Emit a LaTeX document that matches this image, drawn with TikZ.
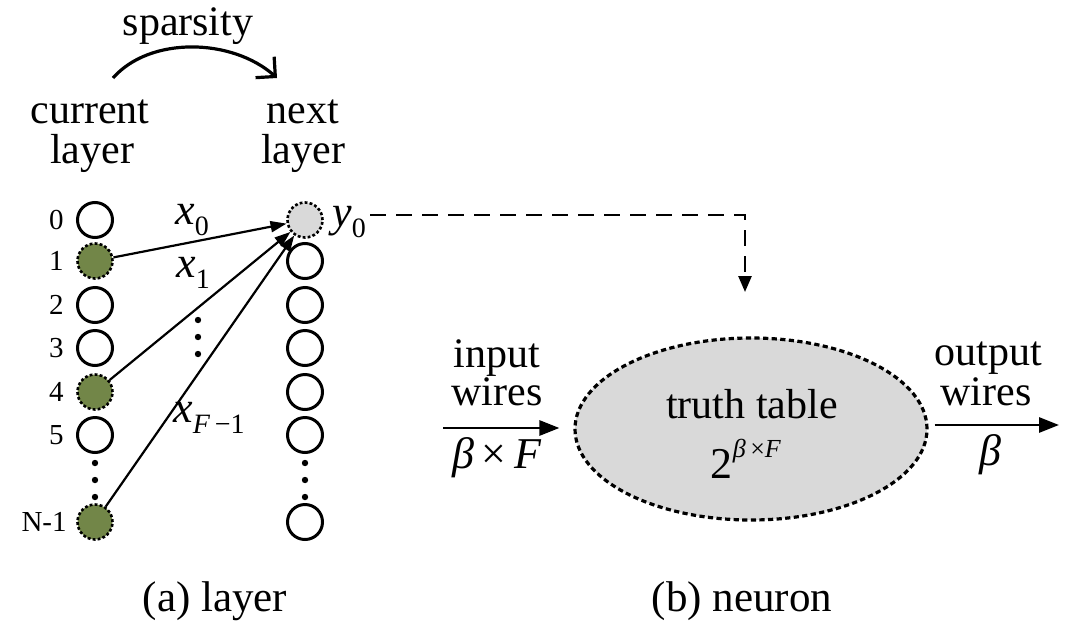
\documentclass[tikz,border=0pt]{standalone}
\usepackage{fontspec}
\setmainfont{Liberation Serif}
\usetikzlibrary{arrows.meta,shapes.geometric}

\definecolor{picked}{RGB}{114,134,72}
\definecolor{shade}{RGB}{217,217,217}

% italic variable with a lowered subscript
\newcommand{\lowsub}[1]{\raisebox{-0.55ex}{\fontsize{14}{14}\selectfont #1}}
\newcommand{\mathlbl}{\fontsize{22}{22}\selectfont}
\newcommand{\bigtxt}{\fontsize{21}{21}\selectfont}

\begin{document}
\begin{tikzpicture}[x=0.5pt,y=-0.5pt,
  unit/.style={circle,draw,line width=1.5pt,minimum size=17.5pt,inner sep=0pt},
  chosen/.style={unit,fill=picked,line width=1.3pt,dash pattern=on 1.4pt off 1.1pt},
  outunit/.style={unit,fill=shade,line width=1.3pt,dash pattern=on 1.4pt off 1.1pt},
  idx/.style={anchor=east,inner sep=0pt,font=\fontsize{14.5}{14.5}\selectfont},
  txt/.style={anchor=base,inner sep=0pt,font=\bigtxt},
  conn/.style={line width=1.1pt,-{Triangle[length=8pt,width=5.5pt]}},
  wire/.style={line width=1.4pt,-{Triangle[length=10pt,width=7.5pt]}},
  dot/.style={circle,fill,inner sep=0pt,minimum size=3.2pt}]

\useasboundingbox (0,0) rectangle (1074,621);

% ---- (a) layer ----
\node[txt] (sp) at (188,35) {sparsity};
\node[txt] (cur1) at (90,123) {current};
\node[txt] (cur2) at (92,163) {layer};
\node[txt] (nxt1) at (303,123) {next};
\node[txt] (nxt2) at (303,163) {layer};

\coordinate (arcA) at (113,78);
\coordinate (arcB) at (277,78);
\draw[line width=1.6pt,-{Straight Barb[length=7pt,width=14pt,line width=1.6pt]}]
  (arcA) .. controls (150,36) and (232,38) .. (arcB);

% current layer
\node[unit]   (c0) at (95,220) {};
\node[chosen] (c1) at (95,261) {};
\node[unit]   (c2) at (95,305) {};
\node[unit]   (c3) at (95,348) {};
\node[chosen] (c4) at (95,392) {};
\node[unit]   (c5) at (95,435) {};
\node[dot]    (cd1) at (95,463) {};
\node[dot]    (cd2) at (95,480) {};
\node[dot]    (cd3) at (95,497) {};
\node[chosen] (cN) at (95,522) {};

\node[idx] (l0) at (64,220) {0};
\node[idx] (l1) at (64,261) {1};
\node[idx] (l2) at (64,305) {2};
\node[idx] (l3) at (64,348) {3};
\node[idx] (l4) at (64,392) {4};
\node[idx] (l5) at (64,435) {5};
\node[idx] (lN) at (67,522) {N-1};

% next layer
\node[outunit] (y0) at (305,220) {};
\node[unit] (n1) at (305,261) {};
\node[unit] (n2) at (305,305) {};
\node[unit] (n3) at (305,348) {};
\node[unit] (n4) at (305,392) {};
\node[unit] (n5) at (305,435) {};
\node[dot]  (nd1) at (305,463) {};
\node[dot]  (nd2) at (305,480) {};
\node[dot]  (nd3) at (305,497) {};
\node[unit] (nN) at (305,522) {};

\node[anchor=west,inner sep=0pt,font=\mathlbl] (ylab) at (332,222) {\textit{y}\lowsub{0}};

% sparse connections
\draw[conn] (c1) -- (y0);
\draw[conn] (c4) -- (y0);
\draw[conn] (cN) -- (y0);

\node[inner sep=0pt,font=\mathlbl] (xl0) at (192,220) {\textit{x}\lowsub{0}};
\node[inner sep=0pt,font=\mathlbl] (xl1) at (193,273) {\textit{x}\lowsub{1}};
\node[inner sep=0pt,font=\mathlbl] (xlF) at (209,418) {\textit{x}\lowsub{\textit{F}\,−1}};
\node[dot] (md1) at (198,320) {};
\node[dot] (md2) at (198,337) {};
\node[dot] (md3) at (198,354) {};

\node[txt,font=\fontsize{21.5}{21.5}\selectfont] (capa) at (215,611) {(a) layer};

% ---- (b) neuron ----
\node[ellipse,draw,fill=shade,line width=1.6pt,dash pattern=on 2.6pt off 1.7pt,
      minimum width=176pt,minimum height=91pt,inner sep=0pt] (tt) at (751,429) {};
\node[txt] (ttl) at (752,418) {truth table};
\node[txt,font=\fontsize{22}{22}\selectfont] (ttn) at (746,478)
  {2\raisebox{1.0ex}{\fontsize{13}{13}\selectfont\textit{β}\,×\textit{F}}};

\coordinate (drop) at (745,292);
\draw[line width=1.3pt,dash pattern=on 8pt off 5pt,-{Triangle[length=8pt,width=6.5pt]}]
  (ylab.east) ++(4,-7) coordinate (ystart) -| (drop);

\coordinate (inS) at (443,428);
\draw[wire,shorten >=7pt] (inS) -- (inS -| tt.west);
\node[txt] (in1) at (497,367) {input};
\node[txt] (in2) at (497,405) {wires};
\node[txt,font=\mathlbl] (in3) at (497,468) {\textit{β}\,×\,\textit{F}};

\coordinate (outE) at (1059,425);
\draw[wire,shorten <=3pt] (outE -| tt.east) -- (outE);
\node[txt] (out1) at (988,365) {output};
\node[txt] (out2) at (986,405) {wires};
\node[txt,font=\mathlbl] (out3) at (990,465) {\textit{β}};

\node[txt,font=\fontsize{21.5}{21.5}\selectfont] (capb) at (742,611) {(b) neuron};
\end{tikzpicture}
\end{document}
